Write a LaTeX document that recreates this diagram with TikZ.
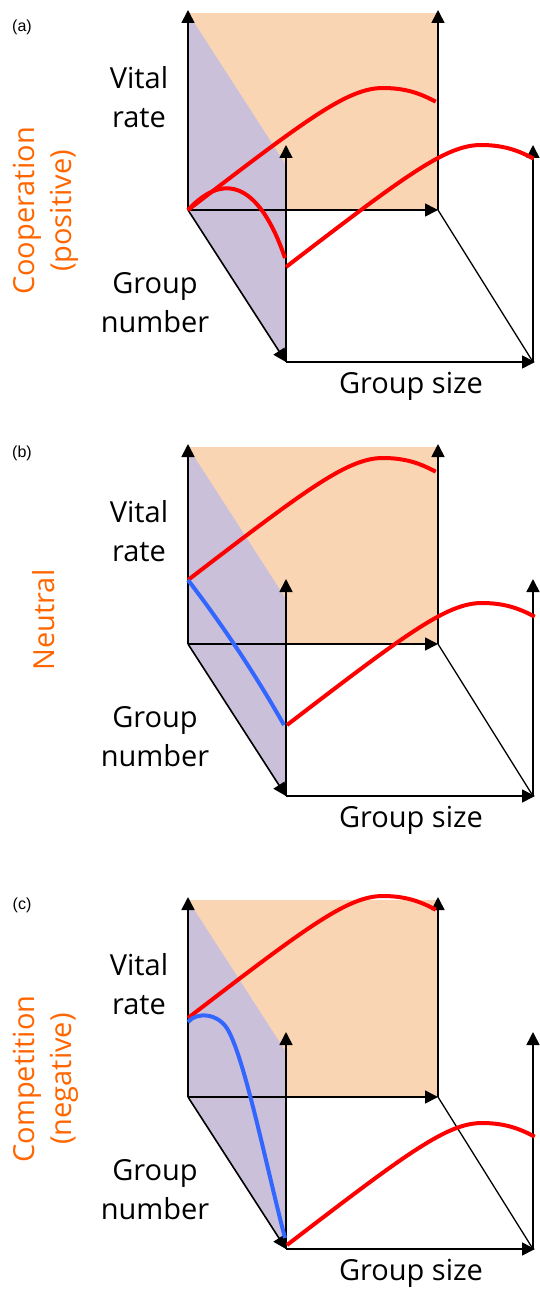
\documentclass[tikz,border=0pt]{standalone}
\usepackage{fontspec}
\setmainfont{Open Sans}
\newfontfamily\tagfont{Liberation Sans}
\usepackage{xcolor}
\usepackage{tikz}
\usetikzlibrary{arrows.meta}

\definecolor{backorange}{HTML}{FAD5B4}
\definecolor{sidepurple}{HTML}{CBC0DA}
\definecolor{labelorange}{HTML}{FF6600}
\definecolor{curveblue}{HTML}{3366FF}

\newcommand{\ratecurve}[1]{%
  \draw[redline, shift={(#1)}] (0,0) .. controls (120,-92) and (160,-122) .. (195,-122)
    .. controls (220,-122) and (235,-115) .. (247.7,-108.3);}

\begin{document}
\begin{tikzpicture}[
  x=1pt, y=-1pt,
  axis/.style={line width=1.6pt, -{Triangle[length=13pt,width=13pt]}},
  edge/.style={line width=1.3pt},
  redline/.style={draw=red, line width=4pt},
  blueline/.style={draw=curveblue, line width=4pt},
  axlabel/.style={font=\fontsize{29}{39}\selectfont, align=center, inner sep=0pt},
  sidelabel/.style={font=\fontsize{29}{37}\selectfont, text=labelorange, align=center, rotate=90, inner sep=0pt},
  tag/.style={font=\tagfont\fontsize{16}{18}\selectfont, inner sep=0pt}
]
\useasboundingbox (0,0) rectangle (539,1289);

\foreach \p/\dy in {a/0, b/434, c/887} {
  \begin{scope}[shift={(0,\dy)}]
    \coordinate (O\p) at (188,210);
    \coordinate (T\p) at (188,10);
    \coordinate (S\p) at (438,210);
    \coordinate (ST\p) at (438,10);
    \coordinate (F\p) at (286,362);
    \coordinate (FT\p) at (286,145);
    \coordinate (R\p) at (535,362);
    \coordinate (RB\p) at (533,362);
    \coordinate (RT\p) at (533,145);
    \fill[backorange] (188,13) rectangle (S\p);
    \fill[sidepurple] (188,13) -- (286,165) -- (F\p) -- (O\p) -- cycle;
    \draw[axis] (O\p) -- (T\p);
    \draw[axis] (S\p) -- (ST\p);
    \draw[axis] (O\p) -- (S\p);
    \draw[axis] (O\p) -- (F\p);
    \draw[axis] (F\p) -- (FT\p);
    \draw[axis] (F\p) -- (R\p);
    \draw[axis] (RB\p) -- (RT\p);
    \draw[edge] (S\p) -- (RB\p);
    \node[axlabel] (vital\p) at (139,97) {Vital\\rate};
    \node[axlabel] (number\p) at (155,303) {Group\\number};
    \node[axlabel, anchor=base] (size\p) at (411,393) {Group size};
  \end{scope}
}

\node[tag] (taga) at (22,27) {(a)};
\node[tag] (tagb) at (22,453) {(b)};
\node[tag] (tagc) at (22,905) {(c)};
\node[sidelabel] (coop) at (46,211) {Cooperation\\(positive)};
\node[sidelabel] (neut) at (44,620) {Neutral};
\node[sidelabel] (comp) at (46,1079) {Competition\\(negative)};

% (a) cooperation
\coordinate (fronta) at (286,267);
\coordinate (enda) at (285,258);
\ratecurve{Oa}
\ratecurve{fronta}
\draw[redline] (Oa) .. controls (225,170) and (260,185) .. (enda);

% (b) neutral
\coordinate (backb) at (188,580);
\coordinate (frontb) at (287,725);
\coordinate (endb) at (284,725);
\ratecurve{backb}
\ratecurve{frontb}
\draw[blueline] (backb) .. controls (215,615) and (250,665) .. (endb);

% (c) competition
\coordinate (backc) at (188,1018);
\coordinate (frontc) at (287,1245);
\coordinate (startc) at (188,1022);
\coordinate (endc) at (285,1238);
\ratecurve{backc}
\ratecurve{frontc}
\draw[blueline] (startc) .. controls (196,1012) and (218,1012.4) .. (228,1030)
  .. controls (245,1060) and (266,1165) .. (endc);
\end{tikzpicture}
\end{document}
